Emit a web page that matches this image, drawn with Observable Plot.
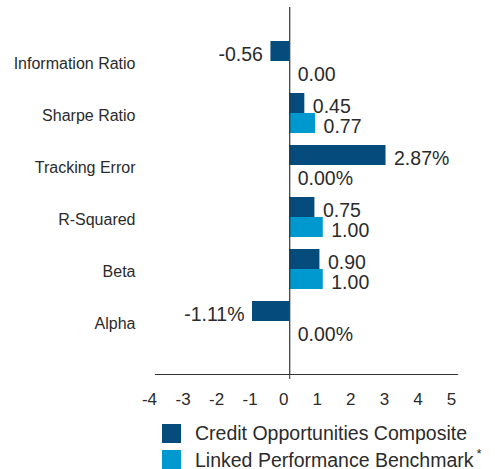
<!DOCTYPE html>
<html>
<head>
<meta charset="utf-8">
<script src="https://cdn.jsdelivr.net/npm/d3@7"></script>
<script src="https://cdn.jsdelivr.net/npm/@observablehq/plot@0.6"></script>
<style>
  html, body { margin: 0; padding: 0; background: #fff; }
  #chart { width: 495px; }
  .legend { margin-left: 162px; margin-top: 8px; font-family: "Liberation Sans", Arial, sans-serif; font-size: 19.5px; color: #2b2b2b; }
  .legend .row { display: flex; align-items: center; height: 26px; }
  .legend .sw { width: 19px; height: 19px; margin-right: 14px; flex: none; }
  .legend sup { font-size: 13px; margin-left: 3px; position: relative; top: -1px; }
</style>
</head>
<body>
<div id="chart"></div>
<script>
const categories = ["Information Ratio", "Sharpe Ratio", "Tracking Error", "R-Squared", "Beta", "Alpha"];
const units = ["", "", "%", "", "", "%"];
const composite = [-0.56, 0.45, 2.87, 0.75, 0.90, -1.11];
const benchmark = [0.00, 0.77, 0.00, 1.00, 1.00, 0.00];
const seriesNames = ["Credit Opportunities Composite", "Linked Performance Benchmark"];
const seriesMarkers = ["", "*"];
const seriesColors = ["#054b7b", "#0099cf"];
const xTicks = [-4, -3, -2, -1, 0, 1, 2, 3, 4, 5];

const comp = categories.map((c, i) => ({category: c, value: composite[i], unit: units[i]}));
const bench = categories.map((c, i) => ({category: c, value: benchmark[i], unit: units[i]}));
const fmt = d => d.value.toFixed(2) + d.unit;

const textFont = "Liberation Sans, Arial, sans-serif";
const labelStyle = {fontSize: 19.5, fill: "#2b2b2b", fontFamily: textFont};

const plot = Plot.plot({
  width: 495,
  height: 412,
  marginLeft: 155,
  marginRight: 38,
  marginTop: 7,
  marginBottom: 38,
  style: {fontFamily: textFont, background: "#fff"},
  x: {domain: [-4, 5]},
  y: {domain: categories, paddingInner: 0.6185, paddingOuter: 0.809},
  marks: [
    Plot.barX(comp, {y: "category", x: "value", fill: seriesColors[0], dy: -10}),
    Plot.barX(bench, {y: "category", x: "value", fill: seriesColors[1], dy: 10}),
    Plot.ruleX([0], {stroke: "#333", strokeWidth: 1.2}),
    Plot.frame({anchor: "bottom", stroke: "#333", strokeWidth: 1.2}),
    Plot.text(comp.filter(d => d.value >= 0), {y: "category", x: "value", text: fmt, textAnchor: "start", dx: 8, dy: -7, ...labelStyle}),
    Plot.text(comp.filter(d => d.value < 0), {y: "category", x: "value", text: fmt, textAnchor: "end", dx: -8, dy: -7, ...labelStyle}),
    Plot.text(bench.filter(d => d.value >= 0), {y: "category", x: "value", text: fmt, textAnchor: "start", dx: 8, dy: 13, ...labelStyle}),
    Plot.text(bench.filter(d => d.value < 0), {y: "category", x: "value", text: fmt, textAnchor: "end", dx: -8, dy: 13, ...labelStyle}),
    Plot.axisY({tickSize: 0, tickPadding: 20, fontSize: 16, dy: 2, fill: "#2b2b2b", fontFamily: textFont, label: null}),
    Plot.axisX({ticks: [0], tickSize: 5, tickFormat: () => "", label: null, stroke: "#333"}),
    Plot.axisX({ticks: xTicks, tickSize: 0, tickPadding: 18, fontSize: 17, dx: -6, fill: "#2b2b2b", tickFormat: d => String(d), label: null})
  ]
});
document.getElementById("chart").appendChild(plot);

const legend = d3.select("#chart").append("div").attr("class", "legend");
seriesNames.forEach((name, i) => {
  const row = legend.append("div").attr("class", "row");
  row.append("div").attr("class", "sw").style("background", seriesColors[i]);
  const t = row.append("span").text(name);
  if (seriesMarkers[i]) t.append("sup").text(seriesMarkers[i]);
});
</script>
</body>
</html>
